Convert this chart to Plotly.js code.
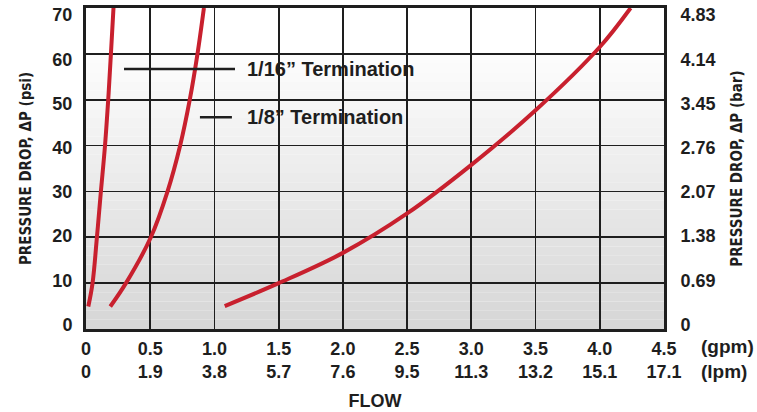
<!DOCTYPE html>
<html>
<head>
<meta charset="utf-8">
<script src="https://cdn.plot.ly/plotly-3.0.1.min.js"></script>
<style>html,body{margin:0;padding:0;background:#fff;}#chart{width:757px;height:412px;}</style>
</head>
<body>
<div id="chart"></div>
<script>
// Data (flow in gpm, pressure drop in psi)
var curveA_gpm = [0.018, 0.051, 0.085, 0.116, 0.148, 0.173, 0.194, 0.214];
var curveA_psi = [4.9, 10, 20, 30, 40, 50, 60, 70];
var curveB_gpm = [0.189, 0.311, 0.505, 0.635, 0.733, 0.808, 0.868, 0.918];
var curveB_psi = [4.9, 10, 20, 30, 40, 50, 60, 70];
var curveC_gpm = [1.08, 1.5, 2.0, 2.5, 3.0, 3.5, 4.0, 4.24];
var curveC_psi = [5, 10, 16.6, 25.2, 35.8, 47.7, 61.5, 70];

var gpmTicks = [0, 0.5, 1.0, 1.5, 2.0, 2.5, 3.0, 3.5, 4.0, 4.5];
var gpmLabels = ['0', '0.5', '1.0', '1.5', '2.0', '2.5', '3.0', '3.5', '4.0', '4.5'];
var lpmLabels = ['0', '1.9', '3.8', '5.7', '7.6', '9.5', '11.3', '13.2', '15.1', '17.1'];
var psiTicks = [0, 10, 20, 30, 40, 50, 60, 70];
var psiLabels = ['0', '10', '20', '30', '40', '50', '60', '70'];
var barLabels = ['0', '0.69', '1.38', '2.07', '2.76', '3.45', '4.14', '4.83'];
var labelA = '1/16\u201D Termination';
var labelB = '1/8\u201D Termination';

var red = '#c8202e';
var dark = '#1e1e1e';
var tickFamily = 'Liberation Sans, Arial, sans-serif';
var narrowFamily = 'Liberation Sans Narrow, DejaVu Sans Condensed, Arial Narrow, sans-serif';

var xText = gpmLabels.map(function (g, i) { return g + '<br>' + lpmLabels[i]; });

var lineStyle = {color: red, width: 4, shape: 'spline', smoothing: 1};
var traces = [
  {x: curveA_gpm, y: curveA_psi, mode: 'lines', line: lineStyle, hoverinfo: 'skip', showlegend: false},
  {x: curveB_gpm, y: curveB_psi, mode: 'lines', line: lineStyle, hoverinfo: 'skip', showlegend: false},
  {x: curveC_gpm, y: curveC_psi, mode: 'lines', line: lineStyle, hoverinfo: 'skip', showlegend: false},
  // empty traces so the label-only axes are drawn
  {x: [], y: [], yaxis: 'y2', mode: 'lines', hoverinfo: 'skip', showlegend: false},
  {x: [], y: [], yaxis: 'y3', mode: 'lines', hoverinfo: 'skip', showlegend: false}
];

// gradient background bands
var shapes = [];
var N = 35;
for (var i = 0; i < N; i++) {
  var y0 = 70 * i / N, y1 = 70 * (i + 1) / N;
  var mid = (y0 + y1) / 2;
  var g = mid >= 60 ? 255 : Math.round(214 + (253 - 214) * (mid / 60));
  shapes.push({type: 'rect', xref: 'paper', yref: 'y', x0: 0, x1: 1, y0: y0, y1: y1,
    fillcolor: 'rgb(' + g + ',' + g + ',' + g + ')', line: {width: 0}, layer: 'below'});
}
// leader lines
shapes.push({type: 'line', xref: 'x', yref: 'y', x0: 0.296, x1: 1.16, y0: 56.7, y1: 56.7,
  line: {color: dark, width: 2.5}, layer: 'above'});
shapes.push({type: 'line', xref: 'x', yref: 'y', x0: 0.887, x1: 1.136, y0: 46.2, y1: 46.2,
  line: {color: dark, width: 2.5}, layer: 'above'});

var annFont = {family: tickFamily, size: 19, color: dark, weight: 'bold'};
var annotations = [
  {xref: 'x', yref: 'y', x: 1.24, y: 56.7, text: labelA, showarrow: false, xanchor: 'left', yanchor: 'middle',
   font: {family: tickFamily, size: 20, color: dark, weight: 'bold'}},
  {xref: 'x', yref: 'y', x: 1.24, y: 46.2, text: labelB, showarrow: false, xanchor: 'left', yanchor: 'middle',
   font: {family: tickFamily, size: 20, color: dark, weight: 'bold'}},
  {xref: 'paper', yref: 'paper', x: 1.06, y: -0.056, text: '(gpm)', showarrow: false, xanchor: 'left', yanchor: 'middle', font: annFont},
  {xref: 'paper', yref: 'paper', x: 1.06, y: -0.131, text: '(lpm)', showarrow: false, xanchor: 'left', yanchor: 'middle', font: annFont}
];

var labelRange = [-1.02, 71.59];
var tickFont = {family: tickFamily, size: 18, color: dark, weight: 'bold'};
var layout = {
  width: 757, height: 412,
  margin: {l: 86, r: 93, t: 8, b: 83},
  paper_bgcolor: '#ffffff',
  plot_bgcolor: '#ffffff',
  showlegend: false,
  xaxis: {
    range: [0, 4.5], tickvals: gpmTicks, ticktext: xText,
    showgrid: true, gridcolor: dark, gridwidth: 1.8, zeroline: false,
    showline: true, mirror: true, linecolor: dark, linewidth: 3,
    ticks: 'outside', ticklen: 1, tickcolor: 'rgba(0,0,0,0)',
    ticklabeloverflow: 'allow',
    tickfont: tickFont,
    title: {text: 'FLOW', font: {family: tickFamily, size: 18, color: dark, weight: 'bold'}, standoff: 14},
    automargin: false, fixedrange: true
  },
  yaxis: {
    range: [0, 70], tickvals: psiTicks, showticklabels: false,
    showgrid: true, gridcolor: dark, gridwidth: 1.8, zeroline: false,
    showline: true, mirror: true, linecolor: dark, linewidth: 3,
    ticks: '', automargin: false, fixedrange: true
  },
  yaxis2: {
    overlaying: 'y', side: 'left', anchor: 'x',
    range: labelRange, tickvals: psiTicks, ticktext: psiLabels,
    showgrid: false, zeroline: false, showline: false,
    ticks: 'outside', ticklen: 9, tickcolor: 'rgba(0,0,0,0)',
    ticklabeloverflow: 'allow',
    tickfont: tickFont,
    title: {text: 'PRESSURE DROP, \u0394P (psi)', font: {family: narrowFamily, size: 15, color: dark, weight: 'bold'}, standoff: 17},
    automargin: false, fixedrange: true
  },
  yaxis3: {
    overlaying: 'y', side: 'right', anchor: 'x',
    range: labelRange, tickvals: psiTicks, ticktext: barLabels,
    showgrid: false, zeroline: false, showline: false,
    ticks: 'outside', ticklen: 12, tickcolor: 'rgba(0,0,0,0)',
    ticklabeloverflow: 'allow',
    tickfont: tickFont,
    title: {text: 'PRESSURE DROP, \u0394P (bar)', font: {family: narrowFamily, size: 15, color: dark, weight: 'bold'}, standoff: 16},
    automargin: false, fixedrange: true
  },
  shapes: shapes,
  annotations: annotations
};

Plotly.newPlot('chart', traces, layout, {displayModeBar: false, staticPlot: true});
</script>
</body>
</html>
